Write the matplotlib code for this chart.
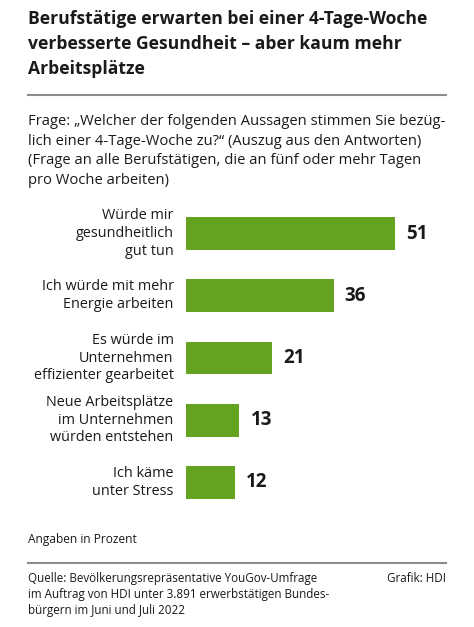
import matplotlib
matplotlib.use("Agg")
from matplotlib import pyplot as plt

plt.rcParams['font.family'] = ['Open Sans', 'DejaVu Sans']

labels = ["Würde mir\ngesundheitlich\ngut tun",
          "Ich würde mit mehr\nEnergie arbeiten",
          "Es würde im\nUnternehmen\neffizienter gearbeitet",
          "Neue Arbeitsplätze\nim Unternehmen\nwürden entstehen",
          "Ich käme\nunter Stress"]
values = [51, 36, 21, 13, 12]

title = "Berufstätige erwarten bei einer 4-Tage-Woche\nverbesserte Gesundheit – aber kaum mehr\nArbeitsplätze"
question = ("Frage: „Welcher der folgenden Aussagen stimmen Sie bezüg-\n"
            "lich einer 4-Tage-Woche zu?“ (Auszug aus den Antworten)\n"
            "(Frage an alle Berufstätigen, die an fünf oder mehr Tagen\n"
            "pro Woche arbeiten)")
unit_note = "Angaben in Prozent"
source = ("Quelle: Bevölkerungsrepräsentative YouGov-Umfrage\n"
          "im Auftrag von HDI unter 3.891 erwerbstätigen Bundes-\n"
          "bürgern im Juni und Juli 2022")
credit = "Grafik: HDI"

W, H = 474, 627
green = '#63a31f'
dark = '#1a1a1a'
rule = '#8c8c8c'

fig = plt.figure(figsize=(W / 100, H / 100), dpi=100)

def fx(px):
    return px / W

def fy(py):
    return 1 - py / H

# header
fig.text(fx(28), fy(10), title, ha='left', va='top', fontsize=12.6,
         fontweight='bold', color=dark, linespacing=1.5)
fig.add_artist(plt.Line2D([fx(28), fx(446)], [fy(95), fy(95)], color=rule, lw=1.5))
fig.text(fx(28), fy(114), question, ha='left', va='top', fontsize=10.6,
         color=dark, linespacing=1.42)

# bars
ax_top, ax_bot = 202.4, 513.6
ax = fig.add_axes([fx(186), fy(ax_bot), fx(4.1 * 60), (ax_bot - ax_top) / H])
ypos = list(range(len(values)))
ax.barh(ypos, values, height=0.53, color=green)
ax.set_xlim(0, 60)
ax.set_ylim(len(values) - 0.5, -0.5)
ax.axis('off')
for y, v, lab in zip(ypos, values, labels):
    ax.annotate(lab, xy=(0, y), xytext=(-9, 0), textcoords='offset points',
                ha='right', va='center', fontsize=10.4, color=dark, linespacing=1.25)
    ax.annotate(str(v), xy=(v, y), xytext=(8, 0), textcoords='offset points',
                ha='left', va='center', fontsize=13.5, fontweight='bold', color=dark)

# footer
fig.text(fx(28), fy(540), unit_note, ha='left', va='center', fontsize=8.6, color=dark)
fig.add_artist(plt.Line2D([fx(28), fx(446)], [fy(563), fy(563)], color=rule, lw=1.5))
fig.text(fx(28), fy(572), source, ha='left', va='top', fontsize=8.4,
         color=dark, linespacing=1.3)
fig.text(fx(446), fy(572), credit, ha='right', va='top', fontsize=8.4, color=dark)

fig.savefig("out.png", dpi=100, facecolor='white')
